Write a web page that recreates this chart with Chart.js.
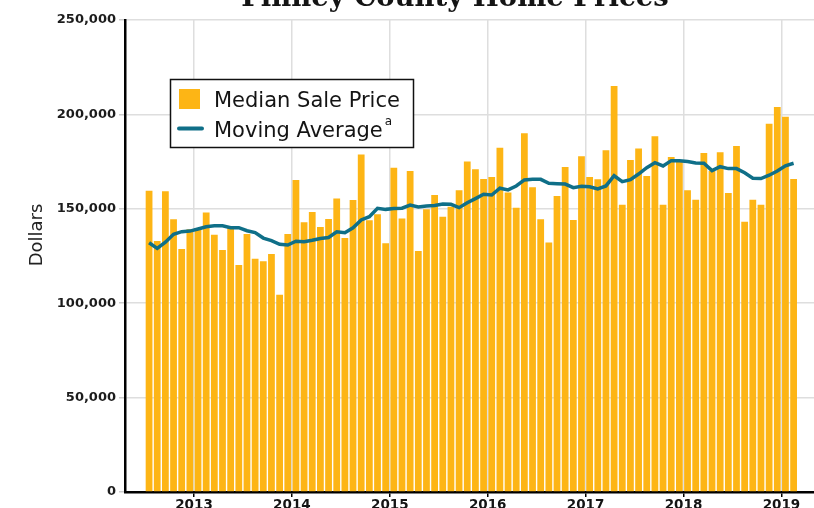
<!DOCTYPE html>
<html>
<head>
<meta charset="utf-8">
<script src="https://cdn.jsdelivr.net/npm/chart.js@4.4.1/dist/chart.umd.min.js"></script>
<style>
  html, body { margin: 0; padding: 0; background: #ffffff; }
  #wrap { position: relative; width: 814px; height: 508px; overflow: hidden; }
  canvas { display: block; }
</style>
</head>
<body>
<div id="wrap"><canvas id="c" width="814" height="508"></canvas></div>
<script>
// ---- Data (monthly, Jan 2013 – Aug 2019) ----
const chartTitle = 'Finney County Home Prices';
const yAxisTitle = 'Dollars';
const seriesNames = ['Median Sale Price', 'Moving Average'];
const legendNote = 'a';

const yearLabels = ['2013', '2014', '2015', '2016', '2017', '2018', '2019'];

const medianSalePrice = [
  159600, 133000, 159300, 144500, 128700, 139200, 139800, 148000, 136300, 128200, 140500, 120200,
  136700, 123600, 122200, 126100, 104500, 136700, 165300, 142900, 148300, 140400, 144600, 155400,
  134500, 154700, 178700, 143900, 147100, 131700, 171800, 144800, 170000, 127700, 149700, 157300,
  145800, 151100, 159800, 175000, 170900, 165800, 166900, 182400, 158600, 150600, 190000, 161400,
  144400, 132200, 156800, 172200, 144100, 177800, 166900, 165600, 181000, 215000, 152200, 175900,
  181900, 167400, 188400, 152200, 177400, 175000, 159800, 154800, 179600, 170000, 179900, 158400,
  183300, 143200, 154800, 152200, 195100, 203900, 198800, 165800
];

const movingAverage = [
  132000, 129000, 132300, 136500, 137900, 138200, 139300, 140500, 141000, 141000, 140000, 140000,
  138400, 137400, 134500, 133100, 131200, 130800, 132800, 132600, 133300, 134300, 134800, 137800,
  137300, 139900, 144100, 145800, 150300, 149700, 150100, 150300, 152000, 151000, 151500, 151800,
  152500, 152400, 150600, 153200, 155400, 157700, 157300, 160900, 160000, 162100, 165300, 165700,
  165600, 163500, 163300, 163100, 161200, 161900, 161700, 160500, 162100, 167500, 164400, 165400,
  168400, 171800, 174400, 172700, 175500, 175500, 175000, 174300, 174100, 170200, 172300, 171300,
  171300, 169100, 166200, 166000, 167800, 170000, 172800, 174100
];

// ---- Styles ----
const BAR_COLOR = '#FDB515';
const LINE_COLOR = '#0F6F88';
const GRID_COLOR = '#dedede';
const TEXT_COLOR = '#141414';

// month index -> point; year boundaries sit half a month before January
const barPoints = medianSalePrice.map((v, i) => ({ x: i, y: v }));
const linePoints = movingAverage.map((v, i) => ({ x: i, y: v }));
const yearBounds = yearLabels.map((_, k) => k * 12 - 0.5);

const overlayPlugin = {
  id: 'overlay',
  afterDraw(chart) {
    const ctx = chart.ctx;
    ctx.save();
    // Title (cropped at the top, as in the reference)
    ctx.fillStyle = TEXT_COLOR;
    ctx.font = 'bold 27.5px "DejaVu Serif"';
    ctx.textAlign = 'center';
    ctx.textBaseline = 'alphabetic';
    ctx.fillText(chartTitle, 455, 6);

    // Y-axis title
    ctx.save();
    ctx.translate(42, 235);
    ctx.rotate(-Math.PI / 2);
    ctx.font = '18px "DejaVu Sans"';
    ctx.fillStyle = '#222';
    ctx.textAlign = 'center';
    ctx.fillText(yAxisTitle, 0, 0);
    ctx.restore();

    // Legend box
    const ds = chart.data.datasets;
    ctx.fillStyle = '#ffffff';
    ctx.fillRect(170.5, 79.5, 243, 68);
    ctx.strokeStyle = '#111';
    ctx.lineWidth = 1.5;
    ctx.strokeRect(170.5, 79.5, 243, 68);

    ctx.fillStyle = ds[0].backgroundColor;
    ctx.fillRect(179, 89, 21, 20);

    ctx.strokeStyle = ds[1].borderColor;
    ctx.lineWidth = 4;
    ctx.lineCap = 'round';
    ctx.beginPath();
    ctx.moveTo(179, 128.5);
    ctx.lineTo(202, 128.5);
    ctx.stroke();

    ctx.fillStyle = TEXT_COLOR;
    ctx.textAlign = 'left';
    ctx.font = '21px "DejaVu Sans"';
    ctx.fillText(ds[0].label, 214, 106.5);
    ctx.fillText(ds[1].label, 214, 136.5);
    const w = ctx.measureText(ds[1].label).width;
    ctx.font = '12px "DejaVu Sans"';
    ctx.fillText(legendNote, 214 + w + 2, 125);
    ctx.restore();
  }
};

new Chart(document.getElementById('c'), {
  type: 'bar',
  data: {
    datasets: [
      {
        type: 'bar',
        label: seriesNames[0],
        data: barPoints,
        backgroundColor: BAR_COLOR,
        borderWidth: 0,
        categoryPercentage: 1.0,
        barPercentage: 0.83,
        order: 2
      },
      {
        type: 'line',
        label: seriesNames[1],
        data: linePoints,
        borderColor: LINE_COLOR,
        backgroundColor: LINE_COLOR,
        borderWidth: 3.5,
        pointRadius: 0,
        tension: 0,
        fill: false,
        order: 1
      }
    ]
  },
  options: {
    responsive: false,
    animation: false,
    devicePixelRatio: 1,
    layout: { padding: { top: 20, right: 0, bottom: 0, left: 0 } },
    plugins: {
      legend: { display: false },
      tooltip: { enabled: false },
      title: { display: false }
    },
    scales: {
      x: {
        type: 'linear',
        min: -2.95,
        max: 81.5,
        offset: false,
        afterBuildTicks(scale) {
          scale.ticks = yearBounds.map(v => ({ value: v }));
        },
        afterFit(scale) { scale.height = 16; },
        ticks: {
          autoSkip: false,
          maxRotation: 0,
          labelOffset: 49,
          padding: 0,
          color: TEXT_COLOR,
          font: { family: '"DejaVu Sans"', size: 13.5, weight: 'bold' },
          callback: (value, index) => yearLabels[index]
        },
        grid: {
          color: GRID_COLOR,
          lineWidth: 1.5,
          drawTicks: true,
          tickLength: 5,
          tickColor: '#000'
        },
        border: { display: true, color: '#000', width: 2.5 }
      },
      y: {
        min: 0,
        max: 250000,
        afterFit(scale) { scale.width = 125; },
        ticks: {
          stepSize: 50000,
          padding: 3,
          color: '#1c1c1c',
          font: { family: '"DejaVu Sans"', size: 13, weight: 'bold' },
          callback: v => v.toLocaleString('en-US')
        },
        grid: {
          color: GRID_COLOR,
          lineWidth: 1.5,
          drawTicks: true,
          tickLength: 6,
          tickColor: '#cccccc'
        },
        border: { display: true, color: '#000', width: 2.5 }
      }
    }
  },
  plugins: [overlayPlugin]
});
</script>
</body>
</html>
